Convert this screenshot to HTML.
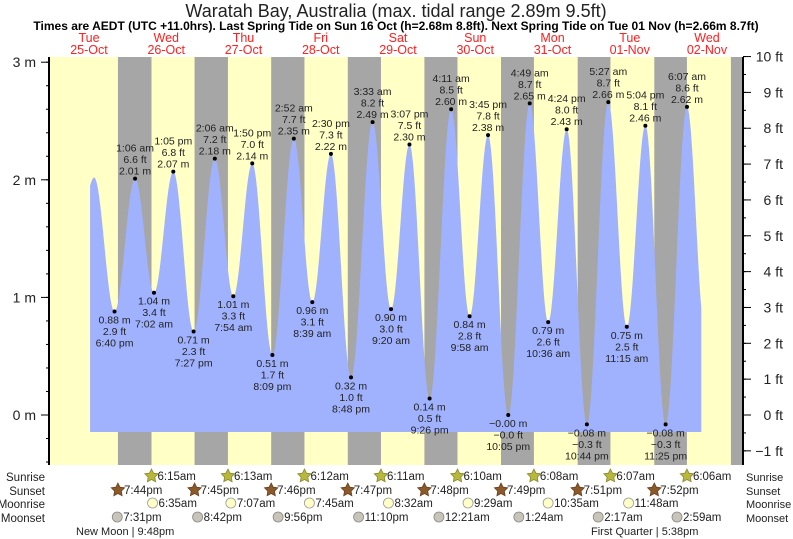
<!DOCTYPE html>
<html><head><meta charset="utf-8">
<style>
body{margin:0;background:#fff;}
svg{display:block;font-family:"Liberation Sans",sans-serif;}
</style></head>
<body>
<svg id="chart" width="793" height="539" viewBox="0 0 793 539" xmlns="http://www.w3.org/2000/svg">
<text x="396" y="17" text-anchor="middle" font-size="18" fill="#222">Waratah Bay, Australia (max. tidal range 2.89m 9.5ft)</text>
<text x="396" y="30" text-anchor="middle" font-size="12" font-weight="bold" fill="#000">Times are AEDT (UTC +11.0hrs). Last Spring Tide on Sun 16 Oct (h=2.68m 8.8ft). Next Spring Tide on Tue 01 Nov (h=2.66m 8.7ft)</text>
<g id="plot"></g>
</svg>
<script>
// ---- data ----
const dayNames = ["Tue","Wed","Thu","Fri","Sat","Sun","Mon","Tue","Wed"];
const dayDates = ["25-Oct","26-Oct","27-Oct","28-Oct","29-Oct","30-Oct","31-Oct","01-Nov","02-Nov"];
// tide extremes: day index (0 = 25 Oct), time label, height (m), feet
const tideDay = [0,0,1,1,1,1,2,2,2,2,3,3,3,3,4,4,4,4,5,5,5,5,6,6,6,6,7,7,7,7,8,8];
const tideTime = ["12:15 pm","6:40 pm","1:06 am","7:02 am","1:05 pm","7:27 pm","2:06 am","7:54 am","1:50 pm","8:09 pm","2:52 am","8:39 am","2:30 pm","8:48 pm","3:33 am","9:20 am","3:07 pm","9:26 pm","4:11 am","9:58 am","3:45 pm","10:05 pm","4:49 am","10:36 am","4:24 pm","10:44 pm","5:27 am","11:15 am","5:04 pm","11:25 pm","6:07 am","11:45 am"];
const tideM = [2.02,0.88,2.01,1.04,2.07,0.71,2.18,1.01,2.14,0.51,2.35,0.96,2.22,0.32,2.49,0.90,2.30,0.14,2.60,0.84,2.38,-0.00,2.65,0.79,2.43,-0.08,2.66,0.75,2.46,-0.08,2.62,0.72];
const tideMLabel = ["","0.88","2.01","1.04","2.07","0.71","2.18","1.01","2.14","0.51","2.35","0.96","2.22","0.32","2.49","0.90","2.30","0.14","2.60","0.84","2.38","\u22120.00","2.65","0.79","2.43","\u22120.08","2.66","0.75","2.46","\u22120.08","2.62",""];
const tideFt = ["","2.9","6.6","3.4","6.8","2.3","7.2","3.3","7.0","1.7","7.7","3.1","7.3","1.0","8.2","3.0","7.5","0.5","8.5","2.8","7.8","\u22120.0","8.7","2.6","8.0","\u22120.3","8.7","2.5","8.1","\u22120.3","8.6",""];
const curveStartHour = 11.0;
const startHeight = 1.95;
const curveEndHour = 202.6;
const sunriseTimes = ["6:15am","6:13am","6:12am","6:11am","6:10am","6:08am","6:07am","6:06am"]; // days 1..8
const sunsetTimes = ["7:44pm","7:45pm","7:46pm","7:47pm","7:48pm","7:49pm","7:51pm","7:52pm","7:53pm"]; // days 0..8
const moonriseTimes = ["6:35am","7:07am","7:45am","8:32am","9:29am","10:35am","11:48am"]; // days 1..7
const moonsetDay = [0,1,2,3,5,6,7,8];
const moonsetTimes = ["7:31pm","8:42pm","9:56pm","11:10pm","12:21am","1:24am","2:17am","2:59am"];
const mTicks = [0,1,2,3];
const ftTicks = [-1,0,1,2,3,4,5,6,7,8,9,10];

// ---- scales ----
const X0 = 49, X1 = 743, Y0 = 57, Y1 = 465;
const xH = h => 55 + 3.19 * h;
const yM = m => 415 - 117.6 * m;
const yFt = f => yM(f * 0.3048);
function parseT(s){
  const mm = s.replace(/\s/g,'').match(/(\d+):(\d+)(am|pm)/);
  let h = (+mm[1]) % 12; if (mm[3]==='pm') h += 12;
  return h + (+mm[2])/60;
}
const NS = "http://www.w3.org/2000/svg";
const plot = document.getElementById('plot');
function mk(tag, attrs, parent, text){
  const e = document.createElementNS(NS, tag);
  for (const k in attrs) e.setAttribute(k, attrs[k]);
  if (text !== undefined) e.textContent = text;
  (parent||plot).appendChild(e);
  return e;
}

const bg = mk('rect',{x:X0,y:Y0,width:X1-X0,height:Y1-Y0,fill:'#ffffc6'});


for (let d=0; d<sunsetTimes.length; d++){
  const s = d*24 + parseT(sunsetTimes[d]);
  const e = d < sunriseTimes.length ? (d+1)*24 + parseT(sunriseTimes[d]) : 1e9;
  const xa = xH(s), xb = Math.min(xH(e), X1);
  const r = mk('rect',{x:xa,y:Y0,width:xb-xa,height:Y1-Y0,fill:'#a6a6a6'});
  
  
}
const ext = tideDay.map((d,i)=>({t:d*24+parseT(tideTime[i]), m:tideM[i]}));
function hAt(t){
  if (t < ext[0].t){
    const f=(t-curveStartHour)/(ext[0].t-curveStartHour);
    return startHeight + (ext[0].m-startHeight)*Math.sin(Math.PI/2*f);
  }
  for (let i=0;i<ext.length-1;i++){
    if (t>=ext[i].t && t<=ext[i+1].t){
      const f=(t-ext[i].t)/(ext[i+1].t-ext[i].t);
      return ext[i].m + (ext[i+1].m-ext[i].m)*(1-Math.cos(Math.PI*f))/2;
    }
  }
  return ext[ext.length-1].m;
}
const baseY = yM(-0.145);
let dp = `M${xH(curveStartHour)},${baseY}`;
for (let t=curveStartHour; t<=curveEndHour; t+=0.2) dp += ` L${xH(t).toFixed(2)},${yM(hAt(t)).toFixed(2)}`;
dp += ` L${xH(curveEndHour)},${yM(hAt(curveEndHour))} L${xH(curveEndHour)},${baseY} Z`;
const area = mk('path',{d:dp,fill:'#a0b2fd'});



for (let i=0;i<ext.length;i++){
  if (!tideMLabel[i]) continue;
  const x = xH(ext[i].t), y = yM(ext[i].m);
  const high = (i===0 || ext[i].m > ext[i-1].m);
  const dot = mk('circle',{cx:x,cy:y,r:2,fill:'#000'});
  
  
  const g = mk('g',{'font-size':'10.5','text-anchor':'middle',fill:'#222'});
  
  
  let lines = high ? [tideTime[i], tideFt[i]+' ft', tideMLabel[i]+' m'] : [tideMLabel[i]+' m', tideFt[i]+' ft', tideTime[i]];
  lines.forEach((s,k)=>{
    const yy = high ? y - 4 - (2-k)*11.5 : y + 12 + k*11.5;
    mk('text',{x:x,y:yy},g,s);
  });
}

const ax = mk('g',{stroke:'#000','stroke-width':1});


mk('line',{x1:X0,y1:Y0,x2:X0,y2:Y1,'stroke-width':2},ax);
mk('line',{x1:X1,y1:Y0,x2:X1,y2:Y1,'stroke-width':2},ax);
for (let v=-0.4; v<=3.01; v+=0.2){
  const y=yM(v); if (y<Y0||y>Y1) continue;
  mk('line',{x1:X0-3,y1:y,x2:X0,y2:y},ax);
}
for (let v=-1; v<=10.01; v+=0.5){
  const y=yFt(v); if (y<Y0-1||y>Y1) continue;
  mk('line',{x1:X1,y1:y,x2:X1+3,y2:y},ax);
}
mTicks.forEach(v=>{
  const y=yM(v);
  mk('line',{x1:X0-8,y1:y,x2:X0,y2:y},ax);
  const t=mk('text',{x:36,y:y+5,'font-size':14,'text-anchor':'end',fill:'#222'},null,v+' m');
  
  
});
ftTicks.forEach(v=>{
  const y=yFt(v);
  mk('line',{x1:X1,y1:y,x2:X1+8,y2:y},ax);
  const t=mk('text',{x:783,y:y+5,'font-size':14,'text-anchor':'end',fill:'#222'},null,(v<0?'\u2212'+(-v):v)+' ft');
  
  
});
dayNames.forEach((n,i)=>{
  const x = 89 + 77.25*i;
  const g = mk('g',{'font-size':12.5,'text-anchor':'middle',fill:'#ff2020'});
  
  
  mk('text',{x:x,y:42},g,n);
  mk('text',{x:x,y:54},g,dayDates[i]);
});

const rowY = {sunrise:476, sunset:490, moonrise:503, moonset:517};
[["Sunrise",476],["Sunset",490],["Moonrise",503],["Moonset",517]].forEach(([n,y])=>{
  const a=mk('text',{x:45,y:y+5,'font-size':11.5,'text-anchor':'end',fill:'#222'},null,n);
  
  
  const b=mk('text',{x:746,y:y+5,'font-size':11,fill:'#222'},null,n);
  
  
});
function star(cx,cy,r,fill,stroke){
  let p=[];
  for(let k=0;k<10;k++){const a=-Math.PI/2+k*Math.PI/5;const rr=k%2?r*0.5:r;p.push((cx+rr*Math.cos(a)).toFixed(1)+','+(cy+rr*Math.sin(a)).toFixed(1));}
  return mk('polygon',{points:p.join(' '),fill:fill,stroke:stroke,'stroke-width':0.8});
}
function evLabel(x,y,s){
  const t=mk('text',{x:x+6,y:y+4,'font-size':11.5,fill:'#222'},null,s);
  
  
}
sunriseTimes.forEach((s,i)=>{
  const x=xH((i+1)*24+parseT(s));
  const st=star(x,rowY.sunrise,7,'#b8b83c','#888830');
  
  
  evLabel(x,rowY.sunrise,s);
});
sunsetTimes.slice(0,8).forEach((s,i)=>{
  const x=xH(i*24+parseT(s));
  const st=star(x,rowY.sunset,7,'#8b5a2b','#6b4020');
  
  
  evLabel(x,rowY.sunset,s);
});
moonriseTimes.forEach((s,i)=>{
  const x=xH((i+1)*24+parseT(s));
  const c=mk('circle',{cx:x,cy:rowY.moonrise,r:5,fill:'#ffffc6',stroke:'#999','stroke-width':0.8});
  
  
  evLabel(x,rowY.moonrise,s);
});
moonsetTimes.forEach((s,i)=>{
  const x=xH(moonsetDay[i]*24+parseT(s));
  const c=mk('circle',{cx:x,cy:rowY.moonset,r:5,fill:'#c8c4b8',stroke:'#888','stroke-width':0.8});
  
  
  evLabel(x,rowY.moonset,s);
});
const nm=mk('text',{x:76,y:535,'font-size':11,fill:'#222'},null,'New Moon | 9:48pm');


const fq=mk('text',{x:591,y:535,'font-size':11,fill:'#222'},null,'First Quarter | 5:38pm');


</script>
</body></html>
